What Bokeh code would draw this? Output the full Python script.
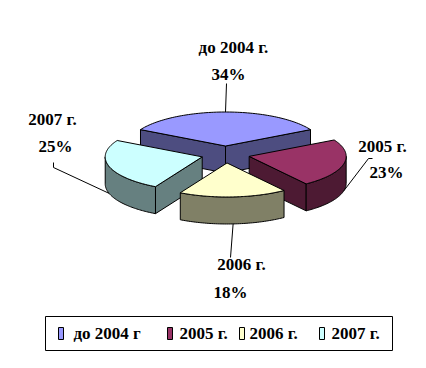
import numpy as np
from bokeh.plotting import figure
from bokeh.models import Range1d
from bokeh.embed import file_html
from bokeh.resources import INLINE
from bokeh.core.properties import value

# ---- data ----
categories = ["до 2004  г.", "2005 г.", "2006 г.", "2007 г."]
legend_labels = ["до 2004 г", "2005 г.", "2006 г.", "2007 г."]
percents = [34, 23, 18, 25]
top_colors = ["#9999FF", "#993366", "#FFFFCC", "#CCFFFF"]
side_colors = ["#4D4D80", "#4D1A33", "#808066", "#668080"]

# ---- layout ----
W, H = 410, 352
CX, CY = 225, 154
RX, RY = 97, 34
DEPTH = 27
EXPLODE = 0.25
FONT = value("Liberation Serif")
FSIZE = "17px"

name_xy = [(235, 47), (382, 146), (241, 264), (52, 119)]
pct_xy = [(228, 74), (386, 172), (230, 292), (55, 146)]
leader_start = [[(226, 83)], [(372, 158), (368, 158)], [(230, 257)], [(53, 162), (53, 167)]]
legend_marker_x = [58, 167, 239, 319]
legend_text_x = [73, 179, 249, 331]
legend_box = (45, 392, 316, 350)

p = figure(width=W, height=H, x_range=Range1d(0, W), y_range=Range1d(H, 0),
           output_backend="svg", toolbar_location=None, min_border=0,
           x_axis_location=None, y_axis_location=None)
p.grid.visible = False
p.outline_line_color = None
p.background_fill_color = "white"
p.border_fill_color = "white"


def pt(ox, oy, a_deg, d=0.0):
    a = np.radians(a_deg)
    return CX + ox + RX * np.cos(a), CY + oy - RY * np.sin(a) + d


slices = []
a0 = 90 + percents[0] / 100 * 180
for i, pc in enumerate(percents):
    a1 = a0 - pc * 3.6
    mid = (a0 + a1) / 2
    ox = EXPLODE * RX * np.cos(np.radians(mid))
    oy = -EXPLODE * RY * np.sin(np.radians(mid))
    slices.append(dict(i=i, a0=a0, a1=a1, mid=mid, ox=ox, oy=oy))
    a0 = a1

order = sorted(slices, key=lambda s: -np.sin(np.radians(s["mid"])))

for s in order:
    i, a0, a1, ox, oy = s["i"], s["a0"], s["a1"], s["ox"], s["oy"]
    ax, ay = CX + ox, CY + oy
    faces = []
    for a, vis in ((a0, np.cos(np.radians(a0)) < 0), (a1, np.cos(np.radians(a1)) > 0)):
        if vis:
            x, y = pt(ox, oy, a)
            faces.append(([ax, x, x, ax], [ay, y, y + DEPTH, ay + DEPTH]))
    for flo, fhi in ((-540, -360), (-180, 0), (180, 360)):
        lo, hi = max(a1, flo), min(a0, fhi)
        if hi > lo:
            angs = np.linspace(hi, lo, 60)
            xs, ys = pt(ox, oy, angs)
            faces.append((list(xs) + list(xs[::-1]), list(ys) + list(ys[::-1] + DEPTH)))
    for fx, fy in faces:
        p.patch(fx, fy, fill_color=side_colors[i], line_color="black", line_width=1)
    angs = np.linspace(a0, a1, 80)
    xs, ys = pt(ox, oy, angs)
    p.patch([ax] + list(xs), [ay] + list(ys), fill_color=top_colors[i],
            line_color="black", line_width=1)

for s in slices:
    i = s["i"]
    up = np.sin(np.radians(s["mid"])) > 0
    ex, ey = pt(s["ox"], s["oy"], s["mid"], 0 if up else DEPTH)
    lx = [q[0] for q in leader_start[i]] + [ex]
    ly = [q[1] for q in leader_start[i]] + [ey]
    p.line(lx, ly, line_color="black", line_width=1)
    p.text([name_xy[i][0]], [name_xy[i][1]], text=[categories[i]], text_font=FONT,
           text_font_size=FSIZE, text_font_style="bold", text_align="center",
           text_baseline="middle", text_color="black")
    p.text([pct_xy[i][0]], [pct_xy[i][1]], text=[f"{percents[i]}%"], text_font=FONT,
           text_font_size=FSIZE, text_font_style="bold", text_align="center",
           text_baseline="middle", text_color="black")

l, r, t, b = legend_box
p.quad(left=[l], right=[r], top=[t], bottom=[b], fill_color="white",
       line_color="black", line_width=1)
ly_c = (t + b) / 2
p.quad(left=legend_marker_x, right=[x + 5 for x in legend_marker_x],
       top=[ly_c - 6] * 4, bottom=[ly_c + 6] * 4, fill_color=top_colors,
       line_color="black", line_width=1)
p.text(legend_text_x, [ly_c] * 4, text=legend_labels, text_font=FONT,
       text_font_size=FSIZE, text_font_style="bold", text_align="left",
       text_baseline="middle", text_color="black")

open("out.html", "w").write(file_html(p, INLINE))
